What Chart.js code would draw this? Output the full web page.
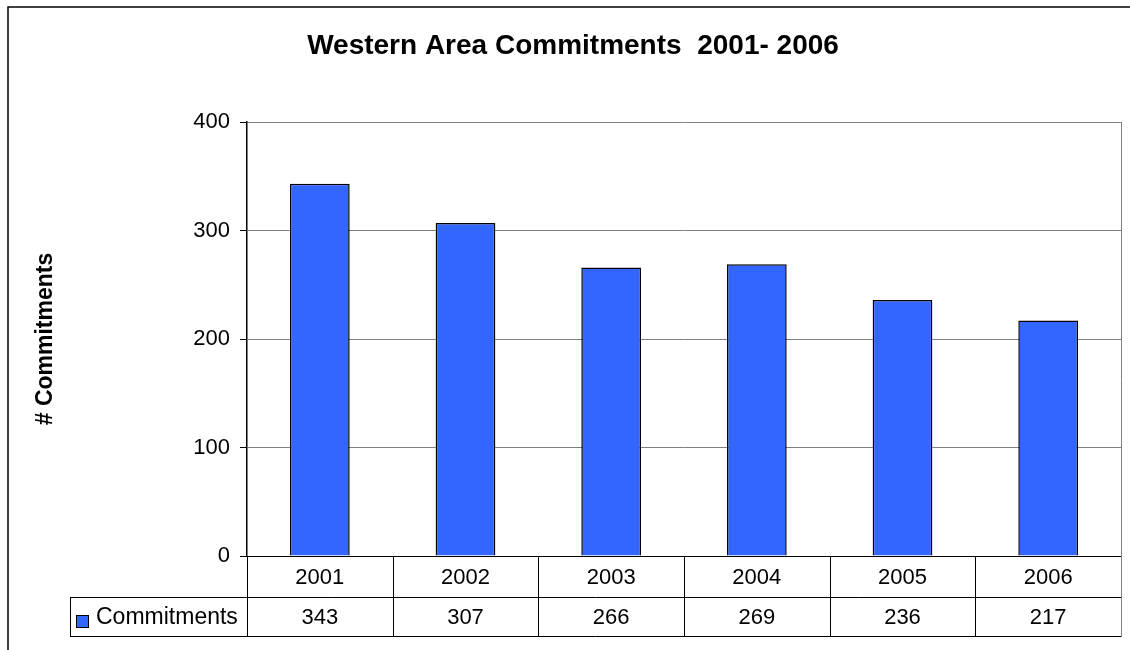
<!DOCTYPE html>
<html>
<head>
<meta charset="utf-8">
<script src="https://cdn.jsdelivr.net/npm/chart.js@4"></script>
<style>
  html, body { margin: 0; padding: 0; background: #fff; }
  #wrap { width: 1130px; height: 650px; }
</style>
</head>
<body>
<div id="wrap"><canvas id="chart" width="1130" height="650"></canvas></div>
<script>
// Commitments per year, western area
const years = ['2001', '2002', '2003', '2004', '2005', '2006'];
const commitments = [343, 307, 266, 269, 236, 217];
const seriesName = 'Commitments';
const chartTitle = 'Western Area Commitments  2001- 2006';
const axisTitle = '# Commitments';
const yMax = 400;
const yStep = 100;

const FONT = "Arial, 'Liberation Sans', sans-serif";
const BAR_COLOR = '#3366FF';

// outer frame + title
const framePlugin = {
    id: 'frame',
    beforeDraw(chart) {
        const ctx = chart.ctx;
        ctx.save();
        ctx.fillStyle = '#fff';
        ctx.fillRect(0, 0, chart.width, chart.height);
        ctx.strokeStyle = '#000';
        ctx.lineWidth = 1.5;
        ctx.beginPath();
        ctx.moveTo(8, chart.height);
        ctx.lineTo(8, 7);
        ctx.lineTo(chart.width, 7);
        ctx.stroke();

        ctx.fillStyle = '#000';
        ctx.font = 'bold 28px ' + FONT;
        ctx.textAlign = 'center';
        ctx.textBaseline = 'middle';
        ctx.fillText(chartTitle, 573, 46);
        ctx.restore();
    }
};

// data table under the plot (years row + values row with legend key)
const dataTable = {
    id: 'dataTable',
    afterDraw(chart) {
        const { ctx, chartArea: a, scales: { x } } = chart;
        const step = x.getPixelForValue(1) - x.getPixelForValue(0);
        const r1 = a.bottom, r2 = a.bottom + 41, r3 = a.bottom + 80;
        const legendLeft = 70;

        ctx.save();
        ctx.lineWidth = 1;
        ctx.strokeStyle = '#000';
        ctx.beginPath();
        // horizontal lines
        ctx.moveTo(legendLeft, r2 + 0.5); ctx.lineTo(a.right, r2 + 0.5);
        ctx.moveTo(legendLeft, r3 + 0.5); ctx.lineTo(a.right, r3 + 0.5);
        // legend cell left edge
        ctx.moveTo(legendLeft + 0.5, r2); ctx.lineTo(legendLeft + 0.5, r3);
        // axis continues down through the table
        ctx.moveTo(a.left + 0.5, r1); ctx.lineTo(a.left + 0.5, r3);
        // category separators
        for (let i = 1; i < years.length; i++) {
            const px = Math.round(x.getPixelForValue(i) - step / 2) + 0.5;
            ctx.moveTo(px, r1); ctx.lineTo(px, r3);
        }
        ctx.stroke();

        // plot right border, grey
        ctx.strokeStyle = '#808080';
        ctx.beginPath();
        ctx.moveTo(a.right + 0.5, a.top); ctx.lineTo(a.right + 0.5, r3 + 1);
        ctx.stroke();

        ctx.fillStyle = '#000';
        ctx.font = '22px ' + FONT;
        ctx.textAlign = 'center';
        ctx.textBaseline = 'middle';
        years.forEach((yr, i) => {
            const cx = x.getPixelForValue(i);
            ctx.fillText(yr, cx, (r1 + r2) / 2 + 1);
            ctx.fillText(String(commitments[i]), cx, (r2 + r3) / 2 + 1);
        });

        // legend key
        ctx.fillStyle = BAR_COLOR;
        ctx.fillRect(76.5, 615.5, 12, 12);
        ctx.strokeStyle = '#000';
        ctx.strokeRect(76.5, 615.5, 12, 12);
        ctx.fillStyle = '#000';
        ctx.textAlign = 'left';
        ctx.font = '23px ' + FONT;
        ctx.fillText(seriesName, 96, (r2 + r3) / 2 + 1);
        ctx.restore();
    }
};

new Chart(document.getElementById('chart'), {
    type: 'bar',
    data: {
        labels: years,
        datasets: [{
            label: seriesName,
            data: commitments,
            backgroundColor: BAR_COLOR,
            borderColor: '#000',
            borderWidth: 1.5,
            categoryPercentage: 1,
            barPercentage: 0.41
        }]
    },
    options: {
        responsive: false,
        animation: false,
        layout: { padding: { top: 122, left: 8, right: 9, bottom: 0 } },
        plugins: {
            legend: { display: false },
            title: { display: false },
            tooltip: { enabled: false }
        },
        scales: {
            x: {
                grid: { display: false },
                border: { color: '#000', width: 1 },
                ticks: { display: false },
                afterFit(scale) { scale.height = 94; }
            },
            y: {
                min: 0,
                max: yMax,
                ticks: {
                    stepSize: yStep,
                    color: '#000',
                    padding: 10,
                    font: { family: FONT, size: 22 }
                },
                grid: {
                    color: '#808080',
                    lineWidth: 1,
                    tickLength: 7,
                    tickColor: '#000'
                },
                border: { color: '#000', width: 1.5 },
                title: {
                    display: true,
                    text: axisTitle,
                    color: '#000',
                    padding: { top: 24, bottom: 0 },
                    font: { family: FONT, size: 23, weight: 'bold' }
                },
                afterFit(scale) { scale.width = 239; }
            }
        }
    },
    plugins: [framePlugin, dataTable]
});
</script>
</body>
</html>
